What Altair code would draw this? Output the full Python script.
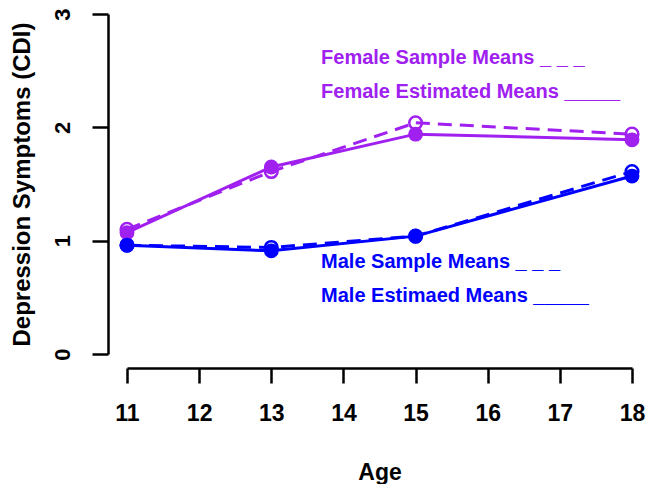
import altair as alt
import pandas as pd

ages = [11, 13, 15, 18]
female_sample = [1.10, 1.61, 2.04, 1.94]
female_est = [1.07, 1.65, 1.94, 1.89]
male_sample = [0.96, 0.94, 1.04, 1.61]
male_est = [0.96, 0.91, 1.04, 1.57]

label_text = ["Female Sample Means _ _ _", "Female Estimated Means _____",
              "Male Sample Means _ _ _", "Male Estimaed Means _____"]
label_group = ["Female", "Female", "Male", "Male"]
label_x = [13.69, 13.69, 13.69, 13.69]
label_y = [2.61, 2.31, 0.81, 0.51]

rows = []
for a, v in zip(ages, female_sample):
    rows.append({"age": a, "val": v, "group": "Female", "kind": "Sample"})
for a, v in zip(ages, female_est):
    rows.append({"age": a, "val": v, "group": "Female", "kind": "Estimated"})
for a, v in zip(ages, male_sample):
    rows.append({"age": a, "val": v, "group": "Male", "kind": "Sample"})
for a, v in zip(ages, male_est):
    rows.append({"age": a, "val": v, "group": "Male", "kind": "Estimated"})
df = pd.DataFrame(rows)
df["series"] = df["group"] + " " + df["kind"]

lab = pd.DataFrame({"text": label_text, "group": label_group, "x": label_x, "y": label_y})

FONT = "Liberation Sans"
color = alt.Color("group:N", scale=alt.Scale(domain=["Female", "Male"], range=["#A020F0", "#0000FF"]), legend=None)

xs = alt.X("age:Q", scale=alt.Scale(domain=[11, 18], nice=False, zero=False),
           axis=alt.Axis(title="Age", values=list(range(11, 19)), format="d", offset=14, tickSize=15,
                         tickWidth=2.5, domainWidth=2.5, domainColor="black", tickColor="black",
                         labelFontSize=23, labelFont=FONT, labelFontWeight="bold", labelColor="black",
                         labelPadding=19, titleFontSize=23, titleFont=FONT, titleFontWeight="bold",
                         titlePadding=36, grid=False, labelFlush=False))
ys = alt.Y("val:Q", scale=alt.Scale(domain=[0, 3], nice=False),
           axis=alt.Axis(title="Depression Symptoms (CDI)", values=[0, 1, 2, 3], format="d", offset=19, tickSize=16,
                         tickWidth=2.5, domainWidth=2.5, domainColor="black", tickColor="black",
                         labelFontSize=22, labelFont=FONT, labelFontWeight="bold", labelColor="black",
                         labelAngle=270, labelAlign="center", labelBaseline="bottom", labelPadding=18,
                         titleFontSize=24, titleFont=FONT, titleFontWeight="bold",
                         titlePadding=17, grid=False, labelFlush=False))

est = df[df["kind"] == "Estimated"]
smp = df[df["kind"] == "Sample"]

est_line = alt.Chart(est).mark_line(strokeWidth=3).encode(x=xs, y=ys, color=color, detail="series:N")
smp_line = alt.Chart(smp).mark_line(strokeWidth=3, strokeDash=[14, 8]).encode(x=xs, y=ys, color=color, detail="series:N")
est_pts = alt.Chart(est).mark_point(filled=True, size=220, opacity=1, shape="circle").encode(x=xs, y=ys, color=color)
smp_pts = alt.Chart(smp).mark_point(filled=False, size=160, strokeWidth=2.5, opacity=1, shape="circle").encode(x=xs, y=ys, color=color)

texts = alt.Chart(lab).mark_text(align="left", baseline="middle", font=FONT, fontWeight="bold", fontSize=20).encode(
    x=alt.X("x:Q"), y=alt.Y("y:Q"), text="text:N", color=color)

chart = alt.layer(smp_line, est_line, smp_pts, est_pts, texts).properties(
    width=505, height=340,
    background="white",
    autosize=alt.AutoSizeParams(type="none"),
    padding={"left": 119, "top": 6, "right": 14, "bottom": 130},
).configure_view(strokeWidth=0, stroke="transparent")

chart.save("out.html", embed_options={"renderer": "svg", "actions": False})
